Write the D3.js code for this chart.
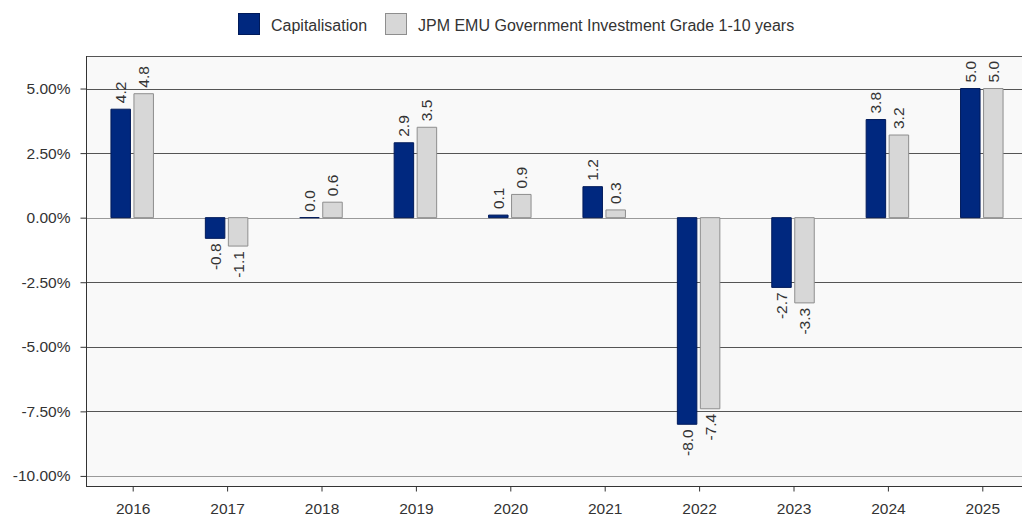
<!DOCTYPE html>
<html>
<head>
<meta charset="utf-8">
<script src="https://cdn.jsdelivr.net/npm/d3@7"></script>
<style>
  html, body { margin: 0; padding: 0; background: #ffffff; }
  svg { display: block; font-family: "Liberation Sans", Arial, sans-serif; }
</style>
</head>
<body>
<svg id="chart" width="1022" height="518"></svg>
<script>
// Calendar-year performance, in percent
const years = ["2016", "2017", "2018", "2019", "2020", "2021", "2022", "2023", "2024", "2025"];
const capitalisation = [4.2, -0.8, 0.0, 2.9, 0.1, 1.2, -8.0, -2.7, 3.8, 5.0];
const benchmark = [4.8, -1.1, 0.6, 3.5, 0.9, 0.3, -7.4, -3.3, 3.2, 5.0];
const seriesNames = ["Capitalisation", "JPM EMU Government Investment Grade 1-10 years"];
const yTicks = [5, 2.5, 0, -2.5, -5, -7.5, -10];

const colors = {
  cap: { fill: "#00287f", stroke: "#001a5a" },
  bench: { fill: "#d7d7d7", stroke: "#8e8e8e" }
};

// d3.format emits a typographic minus; use a plain hyphen instead
const hyphen = s => s.replace("\u2212", "-");
const fmtPct = d => hyphen(d3.format(".2f")(d)) + "%";
const fmtVal = d => hyphen(d3.format(".1f")(d));

const svg = d3.select("#chart");
const plot = { left: 86, right: 1030, top: 56, bottom: 486 };

const x = d3.scaleBand().domain(years).range([plot.left, plot.right]).padding(0);
const y = d3.scaleLinear().domain([-10.39, 6.26]).range([plot.bottom, plot.top]);

const barW = 19.5, gap = 3.5;
const offsets = [-barW - gap / 2 - 1, gap / 2 - 1];

// plot background
svg.append("rect")
  .attr("x", plot.left).attr("y", plot.top)
  .attr("width", plot.right - plot.left).attr("height", plot.bottom - plot.top)
  .attr("fill", "#f9f9f9");

// horizontal gridlines
svg.append("g").selectAll("line").data(yTicks).join("line")
  .attr("x1", plot.left).attr("x2", plot.right)
  .attr("y1", d => Math.round(y(d)) + 0.5).attr("y2", d => Math.round(y(d)) + 0.5)
  .attr("stroke", d => (d === 0 || d === -10) ? "#9a9a9a" : "#555555")
  .attr("stroke-width", 1);

// top border
svg.append("line")
  .attr("x1", plot.left).attr("x2", plot.right)
  .attr("y1", plot.top + 0.5).attr("y2", plot.top + 0.5)
  .attr("stroke", "#555555");

// y axis
const yAxis = d3.axisLeft(y).tickValues(yTicks)
  .tickFormat(fmtPct)
  .tickSize(6).tickPadding(10);
const gy = svg.append("g").attr("transform", `translate(${plot.left + 0.5},0)`).call(yAxis);
gy.select(".domain").attr("stroke", "#333").attr("d", `M0,${plot.top}V${plot.bottom}`);
gy.selectAll(".tick line").attr("stroke", "#333");
gy.selectAll(".tick text").attr("fill", "#333").style("font-size", "15.5px")
  .style("font-family", "Liberation Sans, Arial, sans-serif");

// x axis
const xAxis = d3.axisBottom(x).tickSize(5).tickPadding(11);
const gx = svg.append("g").attr("transform", `translate(0,${plot.bottom + 0.5})`).call(xAxis);
gx.select(".domain").attr("stroke", "#333").attr("d", `M${plot.left},0H${plot.right}`);
gx.selectAll(".tick line").attr("stroke", "#333");
gx.selectAll(".tick text").attr("fill", "#333").style("font-size", "15.5px")
  .style("font-family", "Liberation Sans, Arial, sans-serif");

// bars and value labels
const series = [
  { values: capitalisation, style: colors.cap },
  { values: benchmark, style: colors.bench }
];

series.forEach((s, si) => {
  const rows = years.map((yr, i) => ({ yr, v: s.values[i] }));
  const g = svg.append("g");
  g.selectAll("path").data(rows).join("path")
    .attr("d", d => {
      const x0 = x(d.yr) + x.bandwidth() / 2 + offsets[si];
      const y0 = y(0), y1 = y(d.v);
      return `M${x0},${y0}V${y1}H${x0 + barW}V${y0}Z`;
    })
    .attr("fill", s.style.fill)
    .attr("stroke", s.style.stroke)
    .attr("stroke-width", 1);

  g.selectAll("text").data(rows).join("text")
    .attr("transform", d => {
      const cx = x(d.yr) + x.bandwidth() / 2 + offsets[si] + barW / 2;
      const ty = d.v >= 0 ? y(d.v) - 6 : y(d.v) + 5;
      return `translate(${cx},${ty}) rotate(-90)`;
    })
    .attr("text-anchor", d => d.v >= 0 ? "start" : "end")
    .attr("dy", "0.36em")
    .attr("fill", "#333")
    .style("font-size", "15.5px")
    .text(d => fmtVal(d.v));
});

// legend
const legend = svg.append("g");
const legendItems = [
  { name: seriesNames[0], style: colors.cap, x: 238 },
  { name: seriesNames[1], style: colors.bench, x: 385 }
];
legendItems.forEach(it => {
  legend.append("rect")
    .attr("x", it.x + 0.5).attr("y", 13.5).attr("width", 21).attr("height", 21)
    .attr("fill", it.style.fill).attr("stroke", it.style.stroke);
  legend.append("text")
    .attr("x", it.x + 33).attr("y", 30.5)
    .attr("fill", "#333").style("font-size", "16px")
    .text(it.name);
});
</script>
</body>
</html>
